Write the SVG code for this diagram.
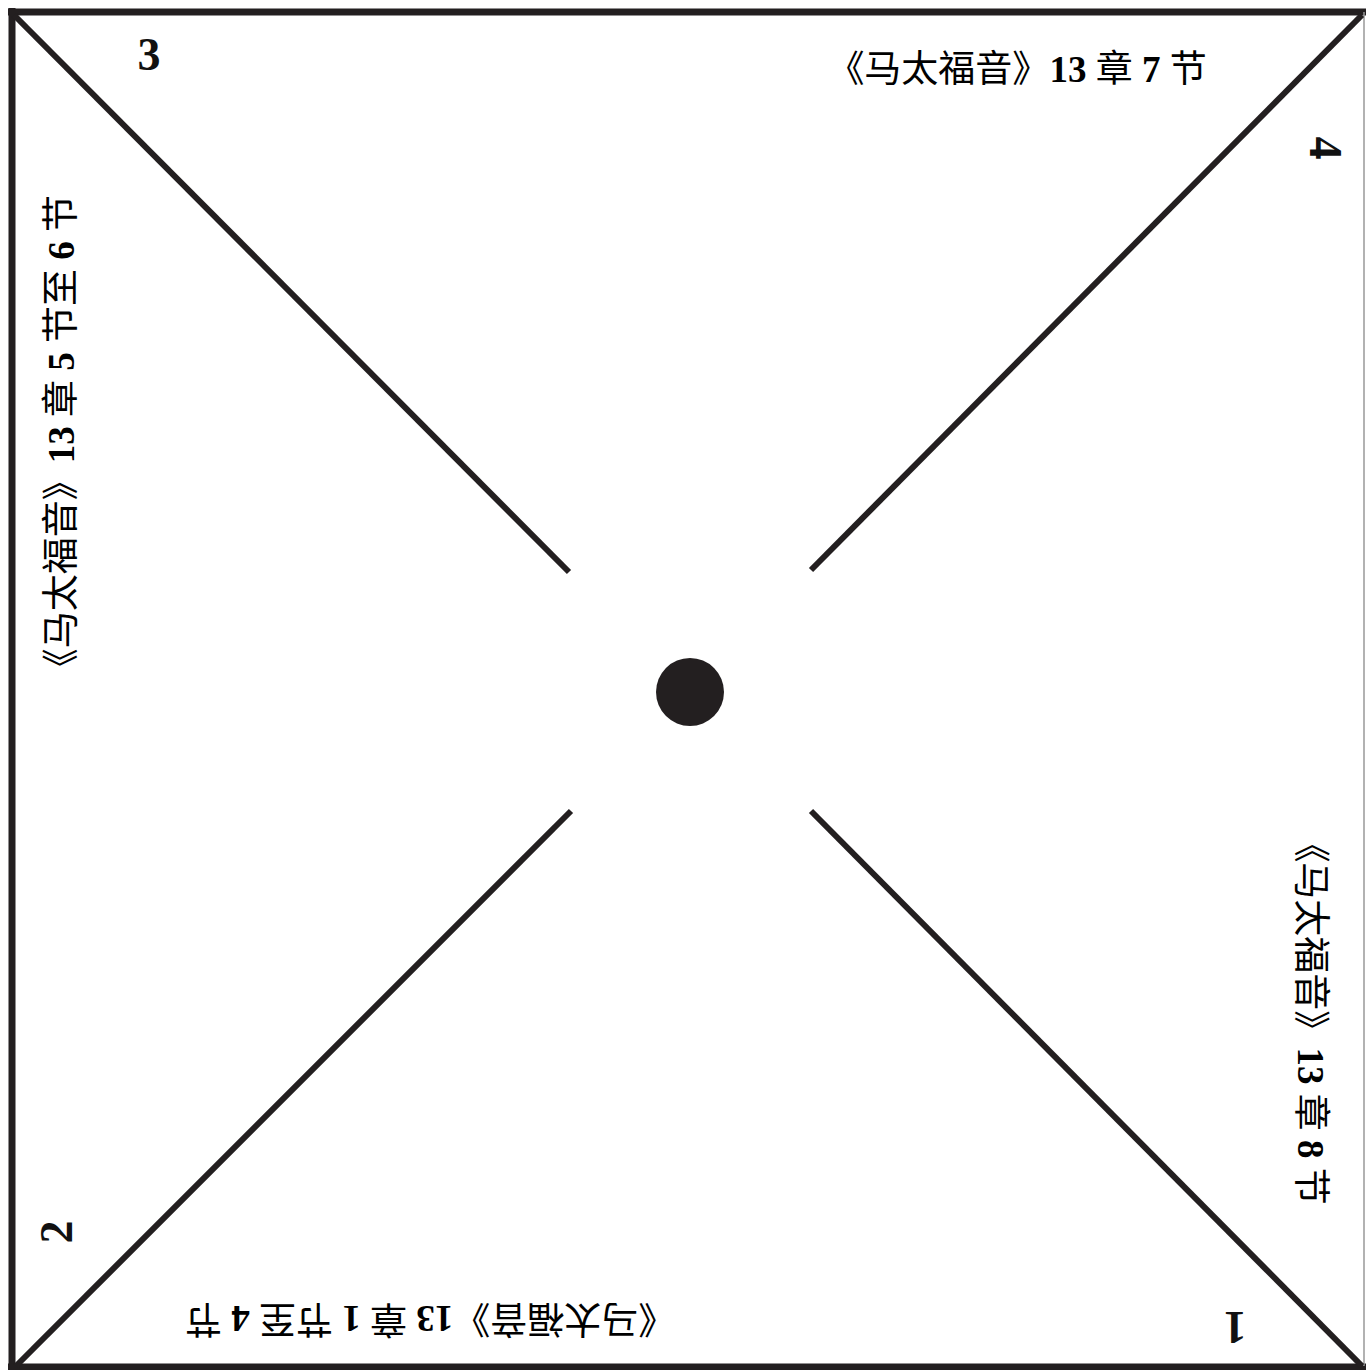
<svg xmlns="http://www.w3.org/2000/svg" width="1366" height="1370" viewBox="0 0 1366 1370">
<style>
.frame{stroke:#231f20;stroke-width:7;fill:none}
.diag{stroke:#231f20;stroke-width:6;fill:none}
.t{font-family:"Liberation Serif","Noto Sans CJK SC",serif;font-size:37px;fill:#000;text-anchor:middle}
.b{font-weight:bold}
.num{font-family:"Liberation Serif",serif;fill:#111;text-anchor:middle;font-weight:bold}
</style>
<rect width="1366" height="1370" fill="#fff"/>
<g id="frame">
<path class="frame" d="M12,8 V1370 M8,12 H1366 M8,1367 H1366"/>
<line x1="1364" y1="12" x2="1364" y2="1366" stroke="#999" stroke-width="1.5"/>
</g>
<g id="connectors">
<line class="diag" x1="14" y1="15" x2="569" y2="572"/>
<line class="diag" x1="1362" y1="15" x2="811" y2="570"/>
<line class="diag" x1="16" y1="1366" x2="571" y2="811"/>
<line class="diag" x1="811" y1="811" x2="1362" y2="1366"/>
</g>
<g id="center"><circle cx="690" cy="692" r="34" fill="#231f20"/></g>
<g id="label-top">
<text class="t" x="1017" y="82">《马太福音》<tspan class="b">13</tspan> 章 <tspan class="b">7</tspan> 节</text>
</g>
<g id="label-left">
<text class="t" transform="translate(74,440) rotate(-90)">《马太福音》<tspan class="b">13</tspan> 章 <tspan class="b">5</tspan> 节至 <tspan class="b">6</tspan> 节</text>
</g>
<g id="label-right">
<text class="t" transform="translate(1298,1015) rotate(90)">《马太福音》<tspan class="b">13</tspan> 章 <tspan class="b">8</tspan> 节</text>
</g>
<g id="label-bottom">
<text class="t" transform="translate(430,1306) rotate(180)">《马太福音》<tspan class="b">13</tspan> 章 <tspan class="b">1</tspan> 节至 <tspan class="b">4</tspan> 节</text>
</g>
<g id="num-3"><text class="num" x="149" y="70" font-size="46">3</text></g>
<g id="num-4"><text class="num" transform="translate(1310,148) rotate(90)" font-size="46">4</text></g>
<g id="num-2"><text class="num" transform="translate(72,1232) rotate(-90)" font-size="46">2</text></g>
<g id="num-1"><text class="num" transform="translate(1235,1312) rotate(180)" font-size="46">1</text></g>
</svg>
